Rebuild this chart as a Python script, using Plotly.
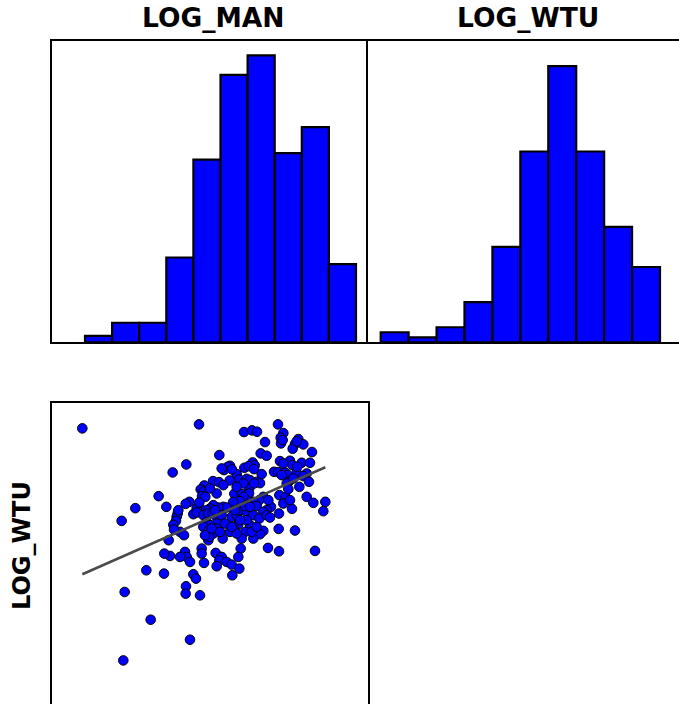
import numpy as np
import plotly.graph_objects as go

# Paired observations (log scale)
LOG_MAN = [
    0.97, 4.47, 6.84, 5.82, 6.06, 6.21, 7.00, 6.92, 6.93, 6.45, 7.45, 7.35, 7.60, 7.28, 7.86,
    5.08, 6.32, 6.50, 4.09, 3.68, 6.90, 7.20, 7.27, 7.55, 7.80, 6.08, 6.14, 5.83, 5.40, 5.33,
    5.22, 5.60, 5.68, 5.39, 4.89, 5.07, 5.90, 6.00, 6.20, 6.30, 6.35, 6.72, 6.85, 7.05, 7.13,
    7.40, 7.70, 7.60, 7.77, 7.48, 7.16, 7.10, 4.63, 4.52, 5.00, 4.60, 4.56, 4.66, 5.53, 5.75,
    5.98, 5.97, 6.12, 6.40, 6.28, 6.10, 5.90, 5.80, 5.70, 5.50, 5.20, 5.30, 5.05, 4.90, 4.80,
    4.70, 4.48, 4.40, 4.18, 4.07, 4.48, 3.26, 3.49, 2.56, 6.88, 7.07, 7.70, 7.90, 8.26, 8.20,
    7.26, 7.15, 6.63, 6.50, 6.20, 6.40, 2.15, 3.83, 3.80, 3.78, 3.70, 4.30, 4.40, 4.60, 4.75,
    4.88, 5.00, 5.15, 5.45, 5.60, 5.75, 5.90, 6.10, 6.28, 6.50, 6.60, 6.87, 6.00, 5.65, 5.85,
    5.52, 5.40, 5.00, 4.70, 4.80, 4.60, 4.75, 4.90, 5.00, 6.40, 6.30, 6.10, 6.86, 7.35, 3.90,
    4.02, 3.56, 5.18, 4.75, 4.78, 5.75, 5.72, 6.54, 6.87, 7.95, 4.55, 4.55, 4.05, 4.10, 4.20,
    3.90, 3.60, 3.43, 4.97, 5.15, 5.08, 5.00, 5.30, 5.45, 5.65, 5.68, 5.47, 4.62, 2.89, 3.42,
    4.30, 4.38, 2.24, 4.08, 4.07, 4.50, 3.02, 4.20, 2.20, 7.40, 6.98, 5.15, 5.46, 5.96, 6.12,
    7.00, 7.42, 4.80, 5.20, 5.80, 5.60, 7.30, 6.95, 4.95, 5.85, 7.00, 3.85, 3.72, 4.85, 5.10,
    4.65, 5.25, 5.60, 5.90, 5.45, 6.05, 6.20, 5.55, 6.00, 5.70, 6.55, 7.20,
]
LOG_WTU = [
    9.15, 9.27, 9.27, 9.04, 9.09, 9.05, 9.01, 8.87, 8.70, 8.74, 8.83, 8.68, 8.67, 8.54, 8.44,
    8.35, 8.40, 8.33, 8.07, 7.83, 8.17, 8.18, 8.05, 8.12, 8.12, 8.13, 8.04, 7.97, 8.03, 8.00,
    7.90, 7.78, 7.62, 7.59, 7.57, 7.54, 7.64, 7.60, 7.55, 7.51, 7.78, 7.85, 7.84, 7.83, 7.76,
    7.82, 7.80, 7.72, 7.55, 7.40, 7.55, 7.50, 7.44, 7.32, 7.20, 7.25, 7.12, 7.10, 7.19, 7.18,
    7.35, 7.20, 7.50, 7.10, 7.00, 6.95, 7.00, 7.10, 6.97, 6.95, 6.80, 6.78, 6.78, 6.85, 6.75,
    6.70, 6.78, 6.75, 6.95, 6.89, 6.93, 7.12, 6.80, 6.76, 7.15, 7.09, 7.10, 6.92, 6.95, 6.67,
    6.74, 7.33, 6.80, 6.70, 6.82, 6.65, 6.38, 6.60, 6.50, 6.38, 6.26, 6.58, 6.63, 6.55, 6.60,
    6.60, 6.50, 6.55, 6.50, 6.55, 6.70, 6.65, 6.55, 6.45, 6.55, 6.48, 6.60, 6.25, 6.28, 6.05,
    6.12, 6.05, 6.30, 6.35, 6.25, 6.20, 6.08, 6.00, 6.15, 6.08, 5.98, 5.85, 6.14, 6.09, 6.05,
    5.95, 5.80, 5.85, 5.80, 5.90, 5.85, 5.55, 5.57, 5.47, 5.48, 5.55, 5.40, 5.45, 5.30, 5.15,
    5.30, 5.33, 5.40, 5.42, 5.30, 5.20, 5.02, 5.15, 5.07, 5.30, 4.95, 4.75, 5.12, 4.90, 4.80,
    4.78, 4.65, 4.25, 4.42, 4.20, 4.15, 3.42, 2.82, 2.20, 8.76, 8.80, 7.95, 7.92, 8.02, 7.93,
    8.10, 8.00, 7.35, 7.45, 7.50, 7.40, 7.65, 7.75, 6.70, 6.82, 6.90, 6.70, 6.12, 6.15, 6.05,
    5.95, 6.30, 6.00, 6.40, 6.20, 6.05, 6.20, 6.70, 6.80, 6.40, 7.00, 7.00,
]

# Histogram counts, 10 equal-width bins spanning each variable's min..max
MAN_COUNTS = [1, 3, 3, 13, 28, 41, 44, 29, 33, 12]
WTU_COUNTS = [2, 1, 3, 8, 19, 38, 55, 38, 23, 15]

TITLES = ["LOG_MAN", "LOG_WTU"]
ROW_LABEL = "LOG_WTU"

W, H = 679, 704
BLUE = "#0000ff"
FONT = "DejaVu Sans"


def bins(values, counts):
    edges = np.linspace(min(values), max(values), len(counts) + 1)
    centers = (edges[:-1] + edges[1:]) / 2
    return centers, edges[1] - edges[0]


man_c, man_w = bins(LOG_MAN, MAN_COUNTS)
wtu_c, wtu_w = bins(LOG_WTU, WTU_COUNTS)

# Least-squares trend line across the LOG_MAN span
slope, intercept = np.polyfit(LOG_MAN, LOG_WTU, 1)
fit_x = np.array([min(LOG_MAN), max(LOG_MAN)])
fit_y = slope * fit_x + intercept

fig = go.Figure()
bar_style = dict(marker=dict(color=BLUE, line=dict(color="black", width=2.2)), showlegend=False)
fig.add_trace(go.Bar(x=man_c, y=MAN_COUNTS, width=man_w, xaxis="x", yaxis="y", **bar_style))
fig.add_trace(go.Bar(x=wtu_c, y=WTU_COUNTS, width=wtu_w, xaxis="x2", yaxis="y2", **bar_style))
fig.add_trace(go.Scatter(
    x=LOG_MAN, y=LOG_WTU, mode="markers", xaxis="x3", yaxis="y3", showlegend=False,
    marker=dict(color=BLUE, size=9.6, line=dict(color="black", width=1)),
))
fig.add_trace(go.Scatter(
    x=fit_x, y=fit_y, mode="lines", xaxis="x3", yaxis="y3", showlegend=False,
    line=dict(color="#4a4a4a", width=2.6),
))


def px_x(p):
    return p / W


def px_y(p):
    return 1 - p / H


ax = dict(showgrid=False, zeroline=False, showticklabels=False, ticks="",
          showline=True, linecolor="black", linewidth=2.2, mirror=True)

top_dom = [px_y(342.3), px_y(41)]
bot_dom = [px_y(703.5), px_y(403)]
left_dom = [px_x(52), px_x(368)]

# Bar edges of each histogram are placed through the axis ranges
man_lo, man_hi = min(LOG_MAN), max(LOG_MAN)
man_scale = 271.0 / (man_hi - man_lo)
wtu_lo, wtu_hi = min(LOG_WTU), max(LOG_WTU)
wtu_scale = 279.3 / (wtu_hi - wtu_lo)

fig.update_layout(
    width=W, height=H,
    margin=dict(l=0, r=0, t=0, b=0),
    paper_bgcolor="white", plot_bgcolor="white",
    xaxis=dict(domain=left_dom, anchor="y",
               range=[man_lo - 33 / man_scale, man_hi + 12 / man_scale], **ax),
    # the shared divider between the two histograms comes from yaxis2
    yaxis=dict(domain=top_dom, anchor="x", range=[0, 46.2], **{**ax, "mirror": False}),
    xaxis2=dict(domain=[px_x(368), 1], anchor="y2",
                range=[wtu_lo - 12.7 / wtu_scale, wtu_hi + 19 / wtu_scale], **ax),
    yaxis2=dict(domain=top_dom, anchor="x2", range=[0, 60],
                **{**ax, "mirror": False}),
    xaxis3=dict(domain=left_dom, anchor="y3", range=[0.06, 9.54], **ax),
    yaxis3=dict(domain=bot_dom, anchor="x3", range=[0.91, 9.91], **ax),
)

title_font = dict(family=FONT, size=26.5, color="black", weight="bold")
fig.add_annotation(text=TITLES[0], x=px_x(213), y=px_y(18), xref="paper", yref="paper",
                   showarrow=False, xanchor="center", yanchor="middle", font=title_font)
fig.add_annotation(text=TITLES[1], x=px_x(527.5), y=px_y(18), xref="paper", yref="paper",
                   showarrow=False, xanchor="center", yanchor="middle", font=title_font)
fig.add_annotation(text=ROW_LABEL, x=px_x(22), y=px_y(546), xref="paper", yref="paper",
                   showarrow=False, xanchor="center", yanchor="middle", textangle=-90,
                   font=dict(family=FONT, size=24, color="black", weight="bold"))

fig.write_html("out.html")
